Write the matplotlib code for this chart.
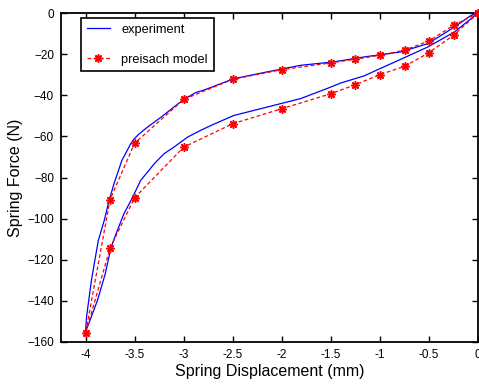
import matplotlib
matplotlib.use('Agg')
import matplotlib.pyplot as plt

plt.rcParams['font.family'] = ['Liberation Sans', 'DejaVu Sans']

# measured hysteresis loop: loading branch (0 -> -4), then unloading (-4 -> 0)
exp_x = [0.0, -0.07, -0.24, -0.51, -0.79, -1.0, -1.16, -1.40, -1.53, -1.81,
         -2.15, -2.49, -2.72, -2.83, -2.96, -3.10, -3.20, -3.30, -3.44, -3.52,
         -3.61, -3.69, -3.74, -3.80, -3.88, -3.97, -4.0,
         -3.99, -3.94, -3.87, -3.81, -3.76, -3.71, -3.63, -3.54, -3.51, -3.46,
         -3.37, -3.23, -3.10, -3.01, -2.88, -2.78, -2.49, -2.15, -1.81, -1.47,
         -1.16, -0.79, -0.51, -0.24, -0.07, 0.0]
exp_y = [0.0, -2.6, -9.1, -16.4, -22.5, -27.0, -30.5, -34.0, -36.5, -41.6,
         -45.7, -49.8, -54.6, -57.1, -60.3, -65.2, -68.4, -73.3, -81.5, -89.6,
         -97.7, -107.5, -114.0, -127.0, -140.0, -151.4, -155.0,
         -148.0, -130.0, -110.7, -101.0, -91.2, -83.0, -71.7, -63.6, -61.5, -59.0,
         -55.5, -50.6, -45.7, -42.4, -38.7, -37.2, -31.9, -28.6, -25.4, -23.7,
         -21.3, -18.9, -14.8, -6.7, -1.0, 0.0]

# model points, same loop order
model_x = [0.0, -0.25, -0.5, -0.75, -1.0, -1.25, -1.5, -2.0, -2.5, -3.0, -3.5, -3.75, -4.0,
           -3.75, -3.5, -3.0, -2.5, -2.0, -1.5, -1.25, -1.0, -0.75, -0.5, -0.25, 0.0]
model_y = [0.0, -10.7, -19.2, -25.9, -29.9, -34.8, -39.2, -46.5, -53.8, -65.2, -89.8, -114.3, -155.8,
           -90.7, -63.3, -42.0, -32.2, -27.5, -24.2, -22.4, -20.5, -18.0, -13.5, -5.9, 0.0]

xticks = [-4, -3.5, -3, -2.5, -2, -1.5, -1, -0.5, 0]
xticklabels = ['-4', '-3.5', '-3', '-2.5', '-2', '-1.5', '-1', '-0.5', '0']
yticks = [0, -20, -40, -60, -80, -100, -120, -140, -160]

fig = plt.figure(figsize=(4.79, 3.86), dpi=100)
ax = fig.add_axes([0.1273, 0.114, 0.871, 0.852])

ax.plot(exp_x, exp_y, color='#0000ff', lw=0.9, label='experiment')
ax.plot(model_x, model_y, color='#ff0000', lw=0.9, ls=(0, (3, 2)),
        marker=(8, 2, 0), markersize=6, markeredgewidth=1.1,
        label='preisach model', clip_on=False, zorder=3)

ax.set_xlim(-4.25, 0)
ax.set_ylim(-160, 0)
ax.set_xticks(xticks)
ax.set_xticklabels(xticklabels)
ax.set_yticks(yticks)
ax.tick_params(direction='in', length=4, width=1, labelsize=8.5,
               top=True, right=True, pad=5)
for s in ax.spines.values():
    s.set_linewidth(1.3)

ax.set_xlabel('Spring Displacement (mm)', fontsize=11.5, labelpad=2)
ax.set_ylabel('Spring Force (N)', fontsize=11.5, labelpad=3)

leg = ax.legend(loc='upper left', bbox_to_anchor=(0.048, 0.985), borderaxespad=0,
                fontsize=9.2, handlelength=1.8, labelspacing=1.4,
                fancybox=False, framealpha=1, edgecolor='black',
                borderpad=0.45, handletextpad=0.9)
leg.get_frame().set_linewidth(1.2)

fig.savefig('out.png', dpi=100)
